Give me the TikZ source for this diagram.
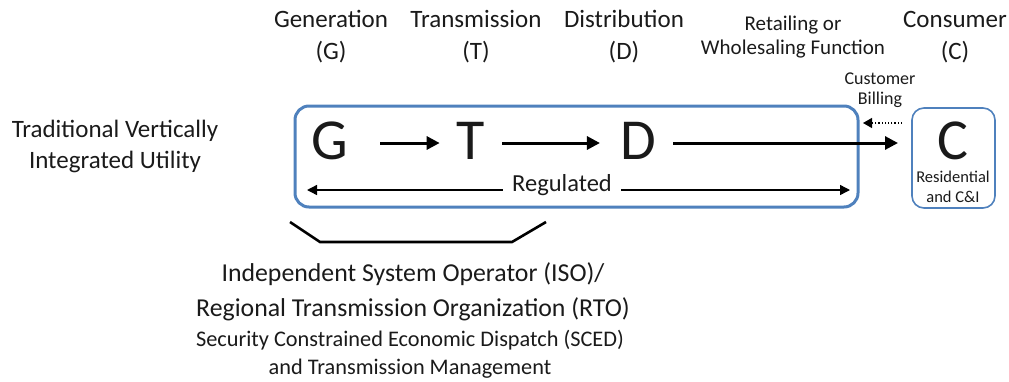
\documentclass[tikz,border=0pt]{standalone}
\usepackage{fontspec}
\setmainfont{Carlito}
\usetikzlibrary{arrows.meta}
\definecolor{utilblue}{HTML}{4F81BD}
\definecolor{utiltext}{HTML}{1A1A1A}

\begin{document}
\begin{tikzpicture}[x=1pt, y=-1pt,
        hdr/.style={font=\fontsize{25}{32}\selectfont, text=utiltext, align=center},
        small/.style={font=\fontsize{21}{24}\selectfont, text=utiltext, align=center},
        big/.style={font=\fontsize{58}{58}\selectfont, text=utiltext, inner sep=0pt},
        flow/.style={line width=3pt, -{Triangle[length=13pt, width=13pt]}},
        reg/.style={line width=1.4pt, -{Triangle[length=10pt, width=10pt]}},
      ]
      \useasboundingbox (0,0) rectangle (1009,381);
      % column headings
      \node[hdr] (hG) at (331,37)  {Generation\\(G)};
      \node[hdr] (hT) at (476,37)  {Transmission\\(T)};
      \node[hdr] (hD) at (624,37)  {Distribution\\(D)};
      \node[small] (hR) at (793,37) {Retailing or\\Wholesaling Function};
      \node[hdr] (hC) at (955,37)  {Consumer\\(C)};
      \node[font=\fontsize{25}{31}\selectfont, text=utiltext, align=center] (util) at (115,146)
        {Traditional Vertically\\Integrated Utility};
      % regulated box
      \draw[utilblue, line width=3pt, rounded corners=14pt] (295,106) rectangle (858,207);
      \draw[utilblue, line width=1.6pt, rounded corners=12pt] (912,108) rectangle (995,208);
      % letters
      \node[big] (gen) at (330,141) {G};
      \node[big] (trans) at (471,141) {T};
      \node[big] (dist) at (638,141) {D};
      \node[big] (cons) at (953,141) {C};
      \node[font=\fontsize{16.5}{20}\selectfont, text=utiltext, align=center] (res) at (953,187)
        {Residential\\and C\&I};
      \coordinate (consin) at (898,143);
      \draw[flow, shorten <=32pt] (gen.east |- 0,143) -- ([xshift=-17pt]trans.west |- 0,143);
      \draw[flow, shorten <=17pt] (trans.east |- 0,143) -- ([xshift=-20pt]dist.west |- 0,143);
      \draw[flow, shorten <=17pt] (dist.east |- consin) -- (consin);
      % billing
      \node[font=\fontsize{18}{20}\selectfont, text=utiltext, align=center] (bill) at (880,90)
        {Customer\\Billing};
      \coordinate (billR) at (902,123);
      \coordinate (billL) at (863,123);
      \draw[line width=1.2pt, dotted, -{Triangle[length=9pt, width=10pt]}] (billR) -- (billL);
      % regulated
      \node[font=\fontsize{24.5}{28}\selectfont, text=utiltext] (regtxt) at (562,185) {Regulated};
      \coordinate (regL) at (307,190);
      \coordinate (regR) at (850,190);
      \draw[reg, shorten <=6pt] (regtxt.west |- regL) -- (regL);
      \draw[reg, shorten <=6pt] (regtxt.east |- regR) -- (regR);
      % bracket
      \draw[line width=2.6pt] (290,222) -- (320,242) -- (512,242) -- (546,222);
      \node[font=\fontsize{25.8}{35}\selectfont, text=utiltext, align=center] (iso) at (413,292)
        {Independent System Operator (ISO)/\\Regional Transmission Organization (RTO)};
      \node[font=\fontsize{22.3}{28}\selectfont, text=utiltext, align=center] (sced) at (410,354)
        {Security Constrained Economic Dispatch (SCED)\\and Transmission Management};
    \end{tikzpicture}
\end{document}
